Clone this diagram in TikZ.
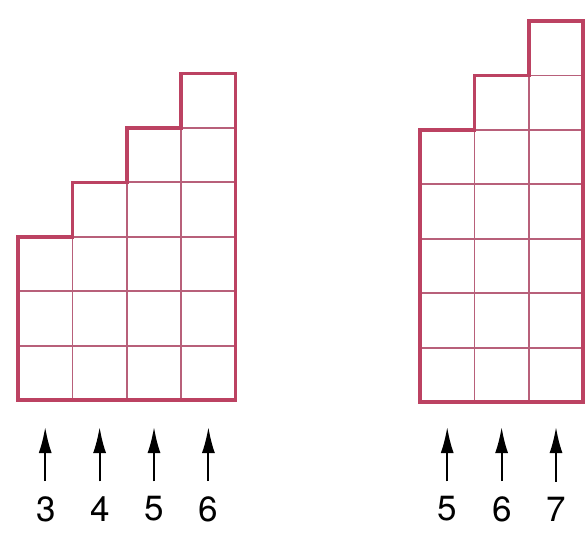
\documentclass[tikz,border=0pt]{standalone}
\usepackage{fontspec}
\setmainfont{TeX Gyre Heros}
\usepackage{tikz}
\usetikzlibrary{arrows.meta, positioning}

\begin{document}
\begin{tikzpicture}[x=1pt, y=-1pt,
  celda/.style={draw=rejilla, line width=1.8pt},
  borde/.style={draw=contorno, line width=3.6pt, line join=miter},
  flecha/.style={-{Latex[length=26pt, width=13pt]}, line width=2pt, black},
  numero/.style={font=\fontsize{35}{40}\selectfont, inner sep=0pt}]
% --- CORES DA GRADE ---
\definecolor{contorno}{HTML}{BC4262}
\definecolor{rejilla}{HTML}{B8607A}

\useasboundingbox (0,0) rectangle (585,534);

% LAYER 1: Grade da esquerda (colunas 3,4,5,6)
\foreach \i/\h in {0/3,1/4,2/5,3/6}
  \foreach \j in {1,...,\h}
    \draw[celda] (18+\i*54.4, 400-\j*54.4+54.4) rectangle ++(54.4,-54.4);
\draw[borde] (18,400) -- (18,236.8) -- (72.4,236.8) -- (72.4,182.4) -- (126.8,182.4) -- (126.8,128) -- (181.2,128) -- (181.2,73.6) -- (235.6,73.6) -- (235.6,400) -- cycle;

% LAYER 2: Grade da direita (colunas 5,6,7)
\foreach \i/\h in {0/5,1/6,2/7}
  \foreach \j in {1,...,\h}
    \draw[celda] (420+\i*54.4, 402-\j*54.4+54.4) rectangle ++(54.4,-54.4);
\draw[borde] (420,402) -- (420,130) -- (474.4,130) -- (474.4,75.6) -- (528.8,75.6) -- (528.8,21.2) -- (583.2,21.2) -- (583.2,402) -- cycle;

% LAYER 3: Numeros
\node[numero] (n3) at (46,509) {3};
\node[numero] (n4) at (100,509) {4};
\node[numero] (n5) at (154,509) {5};
\node[numero] (n6) at (208,509) {6};
\node[numero] (m5) at (447,509) {5};
\node[numero] (m6) at (502,509) {6};
\node[numero] (m7) at (556,509) {7};

% LAYER 4: Setas
\coordinate (a3) at (45.2,427);
\coordinate (a4) at (99.6,427);
\coordinate (a5) at (154,427);
\coordinate (a6) at (208.4,427);
\coordinate (b5) at (447.2,427);
\coordinate (b6) at (501.6,427);
\coordinate (b7) at (556,427);
\draw[flecha] ([yshift=15pt]n3.north -| a3) -- (a3);
\draw[flecha] ([yshift=15pt]n4.north -| a4) -- (a4);
\draw[flecha] ([yshift=15pt]n5.north -| a5) -- (a5);
\draw[flecha] ([yshift=15pt]n6.north -| a6) -- (a6);
\draw[flecha] ([yshift=15pt]m5.north -| b5) -- (b5);
\draw[flecha] ([yshift=15pt]m6.north -| b6) -- (b6);
\draw[flecha] ([yshift=15pt]m7.north -| b7) -- (b7);
\end{tikzpicture}
\end{document}
